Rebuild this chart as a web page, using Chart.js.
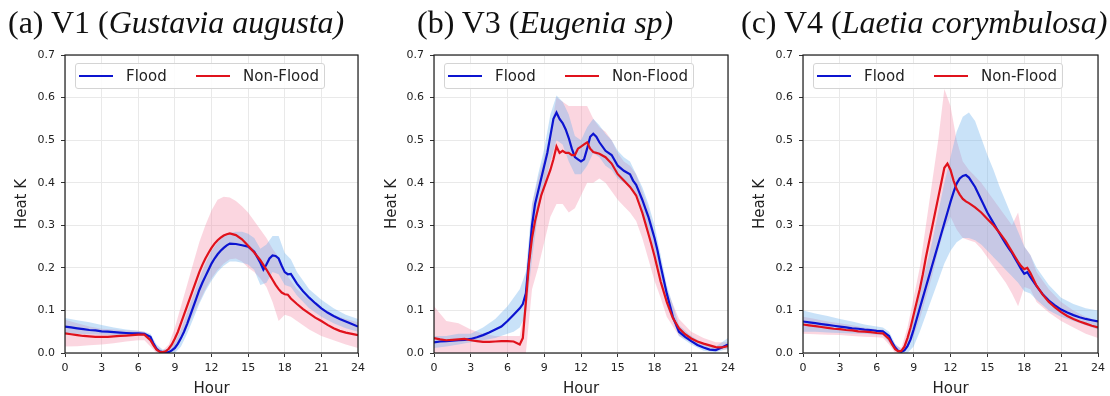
<!DOCTYPE html>
<html><head><meta charset="utf-8">
<script src="https://cdn.jsdelivr.net/npm/chart.js@4.4.0/dist/chart.umd.min.js"></script>
<style>
body{margin:0;background:#fff;width:1110px;height:396px;overflow:hidden;position:relative;font-family:"DejaVu Sans",sans-serif;}
.panel{position:absolute;top:0;width:370px;height:396px;}
.panel canvas{position:absolute;left:0;top:0;}
.ttl{position:absolute;top:6px;font-family:"Liberation Serif",serif;font-size:32px;line-height:32px;white-space:nowrap;color:#111;z-index:3;}
.ttl i{font-style:italic;}
.leg{position:absolute;top:63px;width:250px;height:26px;box-sizing:border-box;border:1px solid #d4d4d4;border-radius:3px;background:rgba(255,255,255,0.85);z-index:2;}
.leg .ln{position:absolute;top:11px;height:2px;width:34px;}
.leg .tx{position:absolute;top:3px;font-size:15px;line-height:18px;color:#222;font-family:"DejaVu Sans",sans-serif;}
</style>
</head><body>
<div class="ttl" style="left:8px">(a) V1 (<i>Gustavia augusta)</i></div>
<div class="ttl" style="left:417px">(b) V3 (<i>Eugenia sp)</i></div>
<div class="ttl" style="left:741px">(c) V4 (<i>Laetia corymbulosa)</i></div>
<div class="panel" style="left:0"><canvas id="c1" width="370" height="396"></canvas></div>
<div class="panel" style="left:370px"><canvas id="c2" width="370" height="396"></canvas></div>
<div class="panel" style="left:740px"><canvas id="c3" width="370" height="396"></canvas></div>
<div id="legends"></div>
<script>
// ---------- DATA ----------
const seriesNames = ["Flood", "Non-Flood"];
const panelTitles = ["(a) V1 (Gustavia augusta)", "(b) V3 (Eugenia sp)", "(c) V4 (Laetia corymbulosa)"];
const xTickValues = [0, 3, 6, 9, 12, 15, 18, 21, 24];
const yTickValues = [0.0, 0.1, 0.2, 0.3, 0.4, 0.5, 0.6, 0.7];
const xLabel = "Hour";
const yLabel = "Heat K";

const lineHours = [0,0.5,1,1.5,2,2.5,3,3.5,4,4.5,5,5.5,6,6.5,7,7.25,7.5,7.75,8,8.25,8.5,8.75,9,9.25,9.5,9.75,10,10.25,10.5,10.75,11,11.25,11.5,11.75,12,12.25,12.5,12.75,13,13.25,13.5,14,14.5,15,15.5,16,16.25,16.5,16.75,17,17.25,17.5,17.75,18,18.25,18.5,19,19.5,20,20.5,21,21.5,22,22.5,23,23.5,24];
const bandHours = [0,1,2,3,4,5,6,6.5,7,7.5,8,8.5,9,9.5,10,10.5,11,11.5,12,12.5,13,13.5,14,14.5,15,15.5,16,16.5,17,17.5,18,18.5,19,20,21,22,23,24];

// (a) V1
const v1Flood = [0.062,0.060,0.058,0.056,0.054,0.053,0.051,0.050,0.049,0.048,0.047,0.046,0.046,0.045,0.038,0.022,0.010,0.004,0.002,0.001,0.002,0.006,0.012,0.022,0.035,0.050,0.068,0.088,0.108,0.128,0.148,0.165,0.180,0.195,0.210,0.222,0.232,0.240,0.247,0.253,0.257,0.256,0.253,0.250,0.238,0.212,0.196,0.208,0.222,0.229,0.228,0.222,0.205,0.190,0.185,0.186,0.163,0.145,0.130,0.117,0.105,0.095,0.087,0.080,0.074,0.068,0.062];
const v1NonFlood = [0.046,0.044,0.042,0.040,0.039,0.038,0.038,0.038,0.039,0.040,0.041,0.042,0.043,0.043,0.030,0.018,0.008,0.003,0.002,0.004,0.010,0.020,0.034,0.050,0.070,0.090,0.110,0.130,0.150,0.170,0.190,0.207,0.222,0.235,0.247,0.257,0.265,0.271,0.276,0.279,0.281,0.277,0.267,0.252,0.236,0.218,0.207,0.196,0.184,0.172,0.160,0.150,0.142,0.138,0.137,0.128,0.115,0.103,0.093,0.083,0.075,0.066,0.058,0.052,0.048,0.045,0.042];
const v1FloodLow  = [0.045,0.045,0.044,0.043,0.042,0.041,0.040,0.040,0.025,0.003,0.000,0.000,0.000,0.015,0.045,0.080,0.115,0.145,0.170,0.190,0.205,0.215,0.215,0.212,0.208,0.195,0.160,0.165,0.190,0.185,0.160,0.155,0.135,0.105,0.085,0.070,0.058,0.050];
const v1FloodHigh = [0.082,0.077,0.072,0.066,0.060,0.055,0.052,0.050,0.045,0.020,0.008,0.010,0.025,0.055,0.095,0.135,0.175,0.210,0.240,0.260,0.275,0.282,0.285,0.285,0.280,0.270,0.245,0.255,0.275,0.275,0.235,0.220,0.190,0.150,0.125,0.105,0.090,0.080];
const v1NonFloodLow  = [0.015,0.016,0.018,0.020,0.023,0.027,0.030,0.030,0.015,0.000,0.000,0.000,0.005,0.030,0.060,0.090,0.120,0.150,0.175,0.195,0.210,0.220,0.222,0.215,0.200,0.190,0.175,0.155,0.120,0.075,0.090,0.085,0.075,0.055,0.040,0.030,0.020,0.012];
const v1NonFloodHigh = [0.078,0.070,0.062,0.057,0.055,0.053,0.052,0.050,0.040,0.015,0.006,0.020,0.060,0.110,0.160,0.210,0.260,0.300,0.335,0.360,0.367,0.365,0.357,0.345,0.330,0.310,0.290,0.270,0.245,0.225,0.190,0.170,0.150,0.125,0.105,0.090,0.080,0.072];

// (b) V3
const v3Flood = [0.025,0.027,0.028,0.029,0.030,0.031,0.033,0.037,0.042,0.048,0.055,0.062,0.075,0.090,0.105,0.115,0.140,0.220,0.300,0.350,0.380,0.410,0.440,0.470,0.510,0.550,0.565,0.550,0.540,0.525,0.505,0.480,0.460,0.455,0.450,0.455,0.480,0.508,0.515,0.508,0.495,0.475,0.465,0.440,0.428,0.420,0.405,0.395,0.378,0.360,0.340,0.320,0.295,0.270,0.240,0.205,0.140,0.085,0.050,0.038,0.028,0.019,0.013,0.008,0.007,0.013,0.020];
const v3NonFlood = [0.035,0.032,0.030,0.031,0.032,0.033,0.030,0.028,0.026,0.026,0.027,0.028,0.028,0.027,0.020,0.035,0.120,0.210,0.270,0.310,0.340,0.370,0.390,0.410,0.430,0.455,0.485,0.470,0.475,0.470,0.470,0.465,0.465,0.480,0.485,0.490,0.495,0.480,0.472,0.470,0.468,0.460,0.445,0.420,0.405,0.390,0.380,0.370,0.350,0.330,0.305,0.280,0.255,0.228,0.198,0.168,0.120,0.082,0.058,0.044,0.034,0.027,0.022,0.018,0.014,0.013,0.016];
const v3FloodLow  = [0.012,0.015,0.020,0.025,0.030,0.035,0.045,0.050,0.060,0.090,0.220,0.330,0.390,0.450,0.500,0.490,0.450,0.420,0.420,0.440,0.470,0.460,0.440,0.430,0.410,0.400,0.390,0.370,0.330,0.290,0.240,0.180,0.110,0.040,0.020,0.005,0.002,0.010];
const v3FloodHigh = [0.040,0.040,0.045,0.045,0.060,0.080,0.110,0.130,0.150,0.190,0.350,0.420,0.480,0.560,0.605,0.590,0.560,0.510,0.500,0.530,0.550,0.535,0.515,0.500,0.475,0.460,0.450,0.420,0.390,0.350,0.300,0.230,0.160,0.065,0.040,0.022,0.015,0.035];
const v3NonFloodLow  = [0.000,0.000,0.000,0.000,0.000,0.000,0.000,0.000,0.000,0.000,0.150,0.200,0.260,0.320,0.350,0.350,0.330,0.340,0.370,0.400,0.400,0.410,0.400,0.380,0.360,0.345,0.330,0.310,0.270,0.220,0.170,0.130,0.085,0.040,0.025,0.012,0.008,0.008];
const v3NonFloodHigh = [0.110,0.075,0.070,0.055,0.045,0.040,0.040,0.040,0.040,0.120,0.350,0.410,0.460,0.520,0.600,0.590,0.580,0.580,0.580,0.580,0.550,0.530,0.520,0.500,0.470,0.450,0.440,0.420,0.380,0.340,0.280,0.210,0.150,0.080,0.050,0.035,0.025,0.025];

// (c) V4
const v4Flood = [0.074,0.072,0.070,0.068,0.066,0.064,0.062,0.060,0.058,0.057,0.055,0.054,0.052,0.051,0.040,0.025,0.013,0.005,0.003,0.006,0.016,0.032,0.055,0.080,0.105,0.130,0.155,0.180,0.205,0.230,0.255,0.280,0.305,0.330,0.355,0.378,0.398,0.410,0.416,0.418,0.412,0.390,0.360,0.330,0.305,0.280,0.268,0.256,0.245,0.235,0.222,0.210,0.197,0.186,0.190,0.178,0.157,0.138,0.123,0.112,0.102,0.095,0.089,0.084,0.080,0.077,0.074];
const v4NonFlood = [0.067,0.065,0.063,0.061,0.059,0.057,0.056,0.054,0.053,0.051,0.050,0.049,0.047,0.046,0.033,0.020,0.009,0.004,0.005,0.015,0.035,0.060,0.090,0.120,0.150,0.185,0.225,0.260,0.295,0.330,0.365,0.400,0.435,0.445,0.430,0.405,0.385,0.372,0.362,0.356,0.352,0.342,0.330,0.315,0.300,0.282,0.272,0.262,0.250,0.238,0.226,0.214,0.204,0.197,0.200,0.188,0.158,0.137,0.120,0.107,0.096,0.087,0.080,0.074,0.069,0.064,0.060];
const v4FloodLow  = [0.050,0.050,0.048,0.047,0.046,0.045,0.043,0.042,0.025,0.005,0.000,0.000,0.015,0.050,0.090,0.130,0.170,0.210,0.240,0.260,0.270,0.270,0.265,0.255,0.240,0.225,0.210,0.195,0.180,0.165,0.145,0.140,0.125,0.100,0.085,0.075,0.065,0.055];
const v4FloodHigh = [0.100,0.093,0.087,0.080,0.074,0.067,0.062,0.060,0.050,0.022,0.008,0.030,0.080,0.140,0.200,0.260,0.330,0.400,0.460,0.520,0.555,0.565,0.545,0.505,0.465,0.430,0.390,0.355,0.320,0.285,0.250,0.230,0.200,0.160,0.130,0.115,0.105,0.100];
const v4NonFloodLow  = [0.045,0.044,0.043,0.042,0.040,0.038,0.037,0.036,0.020,0.000,0.000,0.010,0.040,0.080,0.130,0.180,0.240,0.290,0.320,0.290,0.270,0.265,0.260,0.245,0.225,0.205,0.185,0.165,0.140,0.110,0.155,0.150,0.120,0.095,0.075,0.060,0.045,0.035];
const v4NonFloodHigh = [0.085,0.080,0.074,0.070,0.065,0.060,0.056,0.055,0.040,0.018,0.012,0.060,0.130,0.200,0.300,0.400,0.500,0.620,0.580,0.500,0.450,0.430,0.415,0.400,0.380,0.360,0.340,0.320,0.300,0.330,0.250,0.230,0.190,0.150,0.120,0.100,0.085,0.075];

// ---------- STYLE ----------
const floodColor = '#0c14d0';
const nonFloodColor = '#e0121c';
const floodBand = 'rgba(105,175,235,0.36)';
const nonFloodBand = 'rgba(245,140,170,0.36)';
const FONT = '"DejaVu Sans", sans-serif';

const pts = (xs, ys) => xs.map((x, i) => ({x: x, y: ys[i]}));

const boxPlugin = {
  id: 'box',
  afterDatasetsDraw(chart) {
    const a = chart.chartArea, ctx = chart.ctx;
    ctx.save();
    ctx.strokeStyle = '#1a1a1a';
    ctx.lineWidth = 1.2;
    ctx.strokeRect(a.left, a.top, a.right - a.left, a.bottom - a.top);
    ctx.restore();
  }
};

function makePanel(id, fl, nf, flLo, flHi, nfLo, nfHi, yWidth, padRight, yTitlePad) {
  const band = (data, color, fill, order) => ({
    data: data, borderWidth: 0, pointRadius: 0, backgroundColor: color,
    borderColor: 'transparent', fill: fill, order: order, tension: 0
  });
  const line = (data, color, order, label) => ({
    label: label, data: data, borderColor: color, borderWidth: 2.2, pointRadius: 0,
    fill: false, order: order, tension: 0
  });
  new Chart(document.getElementById(id), {
    type: 'line',
    data: {
      datasets: [
        band(pts(bandHours, flHi), floodBand, '+1', 2),
        band(pts(bandHours, flLo), floodBand, false, 2),
        band(pts(bandHours, nfHi), nonFloodBand, '+1', 3),
        band(pts(bandHours, nfLo), nonFloodBand, false, 3),
        line(pts(lineHours, fl), floodColor, 1, seriesNames[0]),
        line(pts(lineHours, nf), nonFloodColor, 0, seriesNames[1])
      ]
    },
    options: {
      responsive: false, animation: false, events: [],
      layout: {padding: {top: 55, right: padRight, left: 0, bottom: 0}},
      plugins: {legend: {display: false}, tooltip: {enabled: false}},
      scales: {
        x: {
          type: 'linear', min: 0, max: 24,
          afterBuildTicks: s => { s.ticks = xTickValues.map(v => ({value: v})); },
          afterFit: s => { s.height = 43; },
          grid: {color: '#e9e9e9', lineWidth: 1, drawTicks: true, tickLength: 4, tickColor: '#333'},
          border: {display: false},
          ticks: {autoSkip: false, maxRotation: 0, padding: 5, color: '#222', font: {family: FONT, size: 11},
                  callback: v => String(v)},
          title: {display: true, text: xLabel, color: '#222', font: {family: FONT, size: 15}, padding: {top: 0, bottom: -2}}
        },
        y: {
          type: 'linear', min: 0, max: 0.7,
          afterBuildTicks: s => { s.ticks = yTickValues.map(v => ({value: v})); },
          afterFit: s => { s.width = yWidth; },
          grid: {color: '#e9e9e9', lineWidth: 1, drawTicks: true, tickLength: 4, tickColor: '#333'},
          border: {display: false},
          ticks: {autoSkip: false, padding: 6, color: '#222', font: {family: FONT, size: 11},
                  callback: v => Number(v).toFixed(1)},
          title: {display: true, text: yLabel, color: '#222', font: {family: FONT, size: 15}, padding: {top: yTitlePad, bottom: 0}}
        }
      }
    },
    plugins: [boxPlugin]
  });
}

makePanel('c1', v1Flood, v1NonFlood, v1FloodLow, v1FloodHigh, v1NonFloodLow, v1NonFloodHigh, 65, 7, 13);
makePanel('c2', v3Flood, v3NonFlood, v3FloodLow, v3FloodHigh, v3NonFloodLow, v3NonFloodHigh, 64, 9, 13);
makePanel('c3', v4Flood, v4NonFlood, v4FloodLow, v4FloodHigh, v4NonFloodLow, v4NonFloodHigh, 63, 11, 11);

// legends (HTML overlay inside each plot)
const legLefts = [75, 444, 813];
const legHost = document.getElementById('legends');
legLefts.forEach(l => {
  const d = document.createElement('div');
  d.className = 'leg';
  d.style.left = l + 'px';
  d.innerHTML =
    '<div class="ln" style="left:3px;background:' + floodColor + '"></div>' +
    '<div class="tx" style="left:50px">' + seriesNames[0] + '</div>' +
    '<div class="ln" style="left:120px;background:' + nonFloodColor + '"></div>' +
    '<div class="tx" style="left:167px">' + seriesNames[1] + '</div>';
  legHost.appendChild(d);
});
</script>
</body></html>
